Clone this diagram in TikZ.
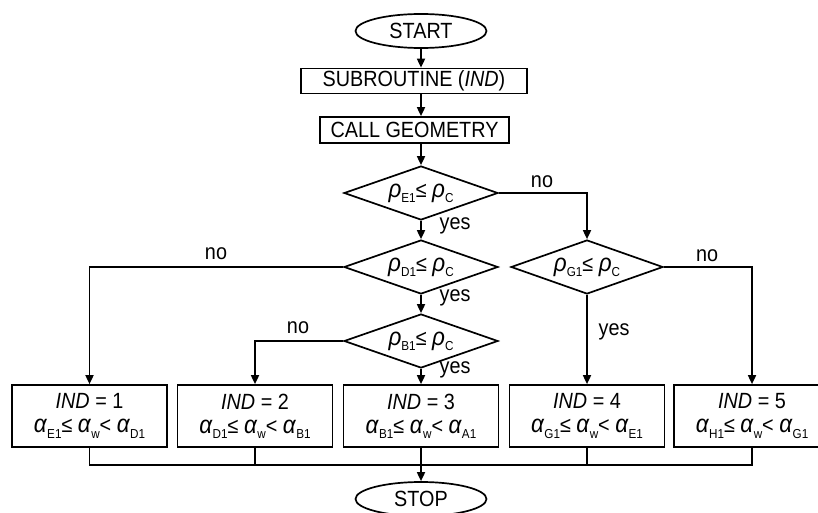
\documentclass[tikz,border=0pt]{standalone}
\usepackage{fontspec}
\setmainfont[FakeStretch=0.9]{Liberation Sans}
\usetikzlibrary{shapes.geometric,arrows.meta}
\newcommand{\sbs}[1]{\raisebox{-0.45ex}{\fontsize{13pt}{13pt}\selectfont #1}}
\newcommand{\gr}[1]{{\fontsize{25pt}{25pt}\selectfont\textit{#1}}}
\begin{document}
\begin{tikzpicture}[x=1pt,y=-1pt,
  every node/.style={font=\fontsize{22pt}{24pt}\selectfont},
  line/.style={line width=1.7pt},
  arr/.style={line, -{Triangle[length=9pt,width=8pt]}},
  term/.style={draw, line width=1.7pt, ellipse, minimum width=131pt, minimum height=34pt, inner sep=0pt},
  proc/.style={draw, line width=1.7pt, inner sep=0pt},
  dec/.style={draw, line width=1.7pt, diamond, shape aspect=2.85, inner sep=0pt, minimum width=154pt, minimum height=54pt},
  res/.style={draw, line width=1.7pt, minimum width=155pt, minimum height=62pt, inner sep=0pt, align=center},
  lbl/.style={inner sep=0pt}]
\useasboundingbox (0,0) rectangle (818,513);
\node[term] (start) at (421,31) {START};
\node[proc, minimum width=226pt, minimum height=25pt] (sub) at (414,81) {SUBROUTINE (\textit{IND})};
\node[proc, minimum width=189pt, minimum height=26pt] (geo) at (414.5,130) {CALL GEOMETRY};
\node[dec] (e1) at (421,193) {\gr{ρ}\sbs{E1}≤ \gr{ρ}\sbs{C}};
\node[dec] (d1) at (421,267) {\gr{ρ}\sbs{D1}≤ \gr{ρ}\sbs{C}};
\node[dec] (b1) at (421,341) {\gr{ρ}\sbs{B1}≤ \gr{ρ}\sbs{C}};
\node[dec, minimum width=152pt] (g1) at (587,267) {\gr{ρ}\sbs{G1}≤ \gr{ρ}\sbs{C}};
\node[res] (bx1) at (89.5,416) {\textit{IND} = 1\\ \gr{α}\sbs{E1}≤ \gr{α}\sbs{w}< \gr{α}\sbs{D1}};
\node[res] (bx2) at (255,416) {\textit{IND} = 2\\ \gr{α}\sbs{D1}≤ \gr{α}\sbs{w}< \gr{α}\sbs{B1}};
\node[res] (bx3) at (421,416) {\textit{IND} = 3\\ \gr{α}\sbs{B1}≤ \gr{α}\sbs{w}< \gr{α}\sbs{A1}};
\node[res] (bx4) at (587,416) {\textit{IND} = 4\\ \gr{α}\sbs{G1}≤ \gr{α}\sbs{w}< \gr{α}\sbs{E1}};
\node[res, minimum width=156pt] (bx5) at (752,416) {\textit{IND} = 5\\ \gr{α}\sbs{H1}≤ \gr{α}\sbs{w}< \gr{α}\sbs{G1}};
\node[term] (stop) at (421,499) {STOP};
\coordinate (m) at (0,465);
% connectors
\draw[arr] (start.south) -- (start.south |- sub.north);
\draw[arr] (sub.south -| start.south) -- (geo.north -| start.south);
\draw[arr] (geo.south -| e1.north) -- (e1.north);
\draw[arr] (e1.south) -- (d1.north);
\draw[arr] (d1.south) -- (b1.north);
\draw[arr] (e1.east) -| (g1.north);
\draw[arr] (d1.west) -| (bx1.north);
\draw[arr] (b1.west) -| (bx2.north);
\draw[arr] (b1.south) -- (b1.south |- bx3.north);
\draw[arr] (g1.south) -- (g1.south |- bx4.north);
\draw[arr] (g1.east) -| (bx5.north);
\draw[line] (bx1.south) -- (bx1.south |- m) -- (bx5.south |- m) -- (bx5.south);
\draw[line] (bx2.south) -- (bx2.south |- m);
\draw[line] (bx4.south) -- (bx4.south |- m);
\draw[arr] (bx3.south) -- (stop.north);
% labels
\node[lbl] (l1) at (542,182) {no};
\node[lbl] (l2) at (216,254) {no};
\node[lbl] (l3) at (298,328) {no};
\node[lbl] (l4) at (707,256) {no};
\node[lbl] (l5) at (455,226) {yes};
\node[lbl] (l6) at (455,298) {yes};
\node[lbl] (l7) at (455,370) {yes};
\node[lbl] (l8) at (614,332) {yes};
\end{tikzpicture}
\end{document}
